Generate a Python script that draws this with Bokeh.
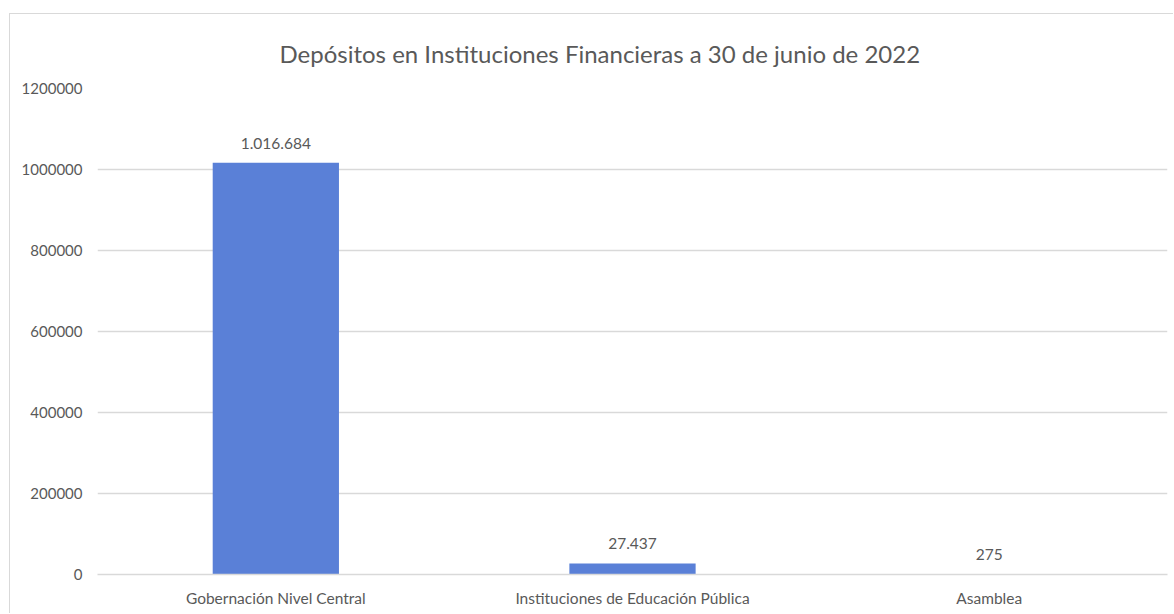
from bokeh.plotting import figure
from bokeh.models import ColumnDataSource, Range1d, Title, FixedTicker, CustomJSTickFormatter
from bokeh.core.properties import value
from bokeh.embed import file_html
from bokeh.resources import INLINE

categories = ["Gobernación Nivel Central", "Instituciones de Educación Pública", "Asamblea"]
values = [1016684, 27437, 275]
y_ticks = [0, 200000, 400000, 600000, 800000, 1000000, 1200000]
title_text = "Depósitos en Instituciones Financieras a 30 de junio de 2022"

labels = [f"{v:,}".replace(",", ".") for v in values]
src = ColumnDataSource(dict(cat=categories, val=values, lab=labels))

FONT = "Lato"
GREY = "#595959"

p = figure(x_range=categories, y_range=Range1d(0, 1200000), width=1164, height=600,
           output_backend="svg", toolbar_location=None,
           min_border_left=87, min_border_right=7, min_border_top=74, min_border_bottom=40)
p.margin = (13, 0, 0, 9)
p.styles = {"border-left": "1px solid #D9D9D9", "border-top": "1px solid #D9D9D9"}
p.title = None
p.add_layout(Title(text=title_text, align="left", text_font=FONT, text_font_size="24px",
                   text_color=GREY, text_font_style="normal", offset=182, standoff=42), "above")

p.vbar(x="cat", top="val", width=0.354, source=src, color="#5A80D7", line_color=None)
p.text(x="cat", y="val", text="lab", source=src, text_align="center", text_baseline="bottom",
       y_offset=-14, text_font=value(FONT), text_font_size="15.5px", text_color=GREY)

p.yaxis.ticker = FixedTicker(ticks=y_ticks)
p.yaxis.axis_line_color = None
p.yaxis.major_tick_line_color = None
p.yaxis.minor_tick_line_color = None
p.yaxis.major_label_standoff = 9
p.yaxis.major_label_text_font = FONT
p.yaxis.major_label_text_font_size = "15px"
p.yaxis.major_label_text_color = GREY
p.yaxis.formatter = CustomJSTickFormatter(code="return tick.toFixed(0);")

p.xaxis.axis_line_color = "#D9D9D9"
p.xaxis.axis_line_width = 1.5
p.xaxis.major_tick_line_color = None
p.xaxis.minor_tick_line_color = None
p.xaxis.major_label_standoff = 8
p.xaxis.major_label_text_font = FONT
p.xaxis.major_label_text_font_size = "15.5px"
p.xaxis.major_label_text_color = GREY

p.xgrid.grid_line_color = None
p.ygrid.grid_line_color = "#D9D9D9"
p.ygrid.grid_line_width = 1.5
p.outline_line_color = None
p.background_fill_color = "white"
p.border_fill_color = "white"

open("out.html", "w").write(file_html(p, INLINE))
